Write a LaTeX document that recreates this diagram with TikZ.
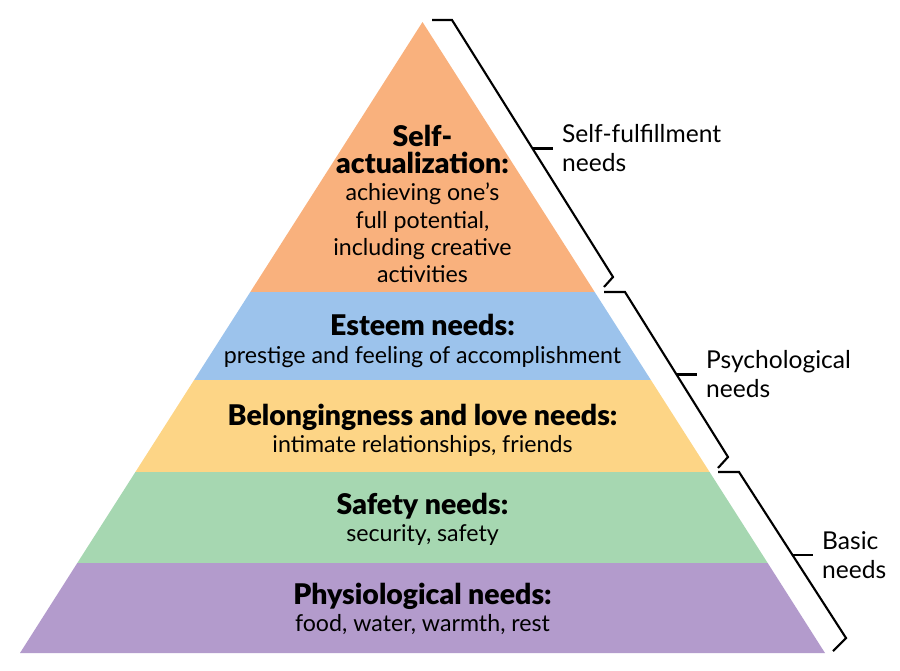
\documentclass[tikz,border=0pt]{standalone}
\usepackage{fontspec}
\setmainfont{Lato}[BoldFont={Lato Black}]
\usetikzlibrary{positioning}

\definecolor{selfcol}{HTML}{F9B17D}
\definecolor{esteemcol}{HTML}{9CC3EC}
\definecolor{lovecol}{HTML}{FDD586}
\definecolor{safecol}{HTML}{A6D7B1}
\definecolor{physcol}{HTML}{B39BCC}

\newcommand{\hd}[1]{{\fontsize{16.2}{16.5}\selectfont\bfseries #1}}

\tikzset{
  level/.style={align=center, inner sep=0pt, font=\fontsize{13.2}{15.5}\selectfont},
  side/.style={align=left, inner sep=0pt, font=\fontsize{14}{16.5}\selectfont},
  brace/.style={line width=1.2pt}
}

\begin{document}
\begin{tikzpicture}[x=0.02cm, y=-0.02cm]
\useasboundingbox (0,0) rectangle (900,670);

% Layers
\fill[selfcol] (422.5,22) -- (594.7,292) -- (250.3,292) -- cycle;
\fill[esteemcol] (250.3,292) -- (594.7,292) -- (650.9,380) -- (194.1,380) -- cycle;
\fill[lovecol] (194.1,380) -- (650.9,380) -- (709.6,472) -- (135.4,472) -- cycle;
\fill[safecol] (135.4,472) -- (709.6,472) -- (767.7,563) -- (77.3,563) -- cycle;
\fill[physcol] (77.3,563) -- (767.7,563) -- (825,653) -- (20,653) -- cycle;

% Texts
\node[level] (selfact) at (422.5,204)
{\hd{Self-}\\\hd{actualization:}\\achieving one's\\full potential,\\including creative\\activities};

\node[level] (esteem) at (422.5,341)
{\hd{Esteem needs:}\\prestige and feeling of accomplishment};

\node[level] (love) at (422.5,430)
{\hd{Belongingness and love needs:}\\intimate relationships, friends};

\node[level] (safety) at (422.5,519)
{\hd{Safety needs:}\\security, safety};

\node[level] (physio) at (422.5,609)
{\hd{Physiological needs:}\\food, water, warmth, rest};

% Self-fulfillment
\draw[brace] (432,20) -- (452,20) -- (613,277) -- (604,287);
\coordinate (fulmid) at (532.5,148.5);
\coordinate (fultip) at (553,148.5);
\draw[brace] (fulmid) -- (fultip);
\node[side, right=5pt of fultip] (fulfil)
{Self-fulfillment\\needs};

% Psychological
\draw[brace] (604,292) -- (625,292) -- (728,457) -- (718,468);
\coordinate (psymid) at (676.5,374.5);
\coordinate (psytip) at (697,374.5);
\draw[brace] (psymid) -- (psytip);
\node[side, right=5pt of psytip] (psych)
{Psychological\\needs};

% Basic
\draw[brace] (718,472) -- (739,472) -- (846,638) -- (833,651);
\coordinate (basmid) at (792.5,555);
\coordinate (bastip) at (813,555);
\draw[brace] (basmid) -- (bastip);
\node[side, right=5pt of bastip] (basic)
{Basic\\needs};

\end{tikzpicture}
\end{document}
